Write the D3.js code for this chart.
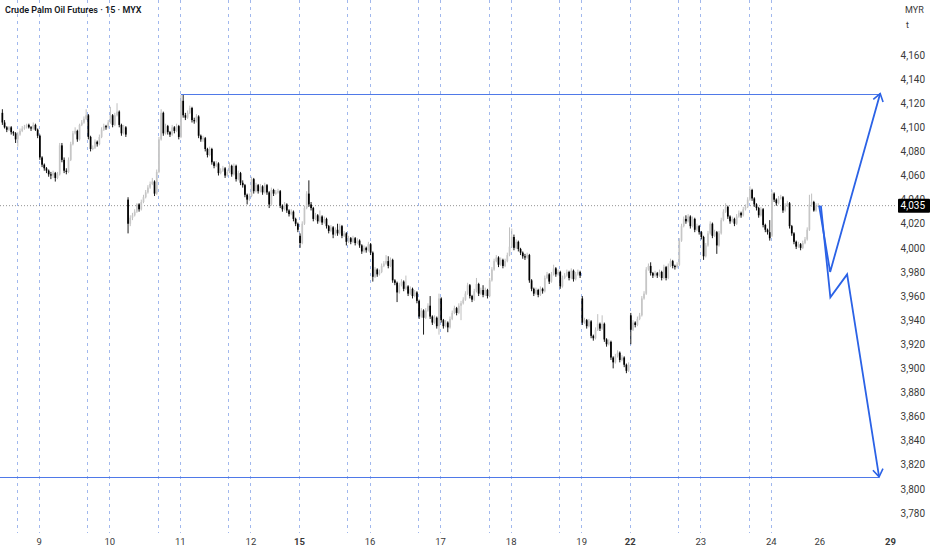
<!DOCTYPE html>
<html><head><meta charset="utf-8">
<script src="https://cdn.jsdelivr.net/npm/d3@7/dist/d3.min.js"></script>
<style>body{margin:0;background:#fff}svg{display:block}text{font-family:Roboto,"Liberation Sans",sans-serif}</style>
</head><body><svg id="c" width="932" height="550"></svg>
<script>
const title = "Crude Palm Oil Futures · 15 · MYX";
const opens = [4112,4104,4100,4098,4100,4096,4095,4090,4094,4097,4099,4100,4102,4100,4099,4102,4098,4093,4075,4069,
4066,4064,4061,4060,4062,4058,4061,4085,4073,4064,4063,4073,4086,4095,4097,4090,4102,4104,4107,4110,
4092,4082,4083,4088,4086,4092,4098,4101,4100,4104,4110,4102,4110,4113,4102,4095,4100,4040,4020,4025,
4027,4030,4036,4032,4038,4042,4046,4050,4053,4055,4045,4063,4090,4112,4095,4101,4096,4094,4100,4097,
4101,4092,4122,4110,4108,4112,4116,4106,4105,4109,4093,4090,4091,4082,4077,4082,4071,4068,4070,4062,
4064,4066,4060,4063,4068,4061,4068,4057,4062,4054,4052,4044,4040,4043,4057,4047,4052,4047,4051,4046,
4052,4046,4036,4048,4045,4046,4047,4035,4032,4036,4031,4028,4030,4024,4020,4010,4004,4020,4033,4045,
4036,4033,4024,4027,4022,4026,4021,4024,4018,4014,4017,4011,4015,4012,4018,4010,4012,4005,4008,4005,
4008,4004,4006,4002,3997,4000,3998,4003,3996,3976,3982,3978,3980,3985,3987,3989,3985,3990,3973,3971,
3963,3969,3972,3966,3968,3962,3966,3960,3963,3956,3943,3948,3942,3948,3952,3943,3938,3942,3935,3958,
3940,3935,3938,3934,3941,3946,3950,3946,3952,3954,3957,3962,3969,3960,3957,3964,3970,3962,3965,3961,
3965,3960,3973,3982,3989,3992,3986,3990,3985,3989,3994,4001,4009,4000,4005,3999,3996,3993,3992,3994,
3973,3966,3962,3965,3961,3966,3964,3975,3978,3972,3978,3983,3978,3980,3968,3975,3977,3980,3975,3981,
3974,3978,3980,3958,3938,3940,3935,3939,3927,3925,3932,3937,3933,3937,3924,3920,3922,3909,3905,3910,
3913,3907,3909,3903,3898,3944,3932,3938,3936,3941,3944,3958,3962,3982,3985,3979,3977,3979,3977,3980,
3975,3984,3975,3985,3989,3985,3984,3986,4006,4018,4024,4022,4026,4018,4024,4015,4018,4013,4009,3993,
4002,4012,4020,4010,4013,4002,4012,4023,4030,4034,4026,4022,4024,4020,4026,4029,4027,4032,4034,4040,
4048,4041,4036,4033,4027,4032,4019,4015,4013,4010,4045,4040,4037,4041,4042,4031,4035,4037,4018,4012,
4005,4001,4003,4000,4004,4007,4015,4036,4038,4031,4035];
const highs = [4115,4106,4101,4101,4101,4097,4096,4096,4099,4101,4102,4103,4103,4101,4104,4103,4099,4094,4076,4070,
4067,4065,4063,4064,4063,4063,4087,4087,4075,4066,4075,4088,4097,4100,4098,4103,4106,4109,4115,4111,
4093,4085,4090,4089,4094,4100,4103,4102,4106,4117,4111,4112,4120,4114,4103,4102,4101,4042,4027,4029,
4032,4037,4037,4040,4044,4048,4052,4055,4058,4056,4065,4092,4115,4113,4103,4102,4097,4102,4101,4103,
4102,4127,4127,4112,4114,4118,4117,4108,4111,4110,4094,4093,4092,4083,4084,4083,4072,4072,4071,4066,
4068,4067,4065,4071,4069,4070,4069,4064,4063,4056,4053,4045,4045,4059,4058,4054,4053,4053,4052,4054,
4053,4047,4050,4049,4048,4049,4048,4036,4038,4037,4032,4032,4031,4025,4021,4012,4022,4035,4047,4056,
4038,4034,4029,4028,4031,4027,4026,4025,4019,4019,4018,4017,4020,4020,4019,4014,4013,4010,4009,4010,
4009,4008,4007,4003,4002,4001,4005,4004,3997,3984,3983,3982,3987,3989,3994,3993,3992,3991,3974,3972,
3971,3974,3973,3977,3969,3968,3967,3965,3964,3957,3950,3949,3950,3954,3960,3944,3944,3943,3962,3959,
3941,3940,3939,3943,3948,3952,3951,3954,3956,3959,3964,3971,3970,3961,3966,3975,3971,3967,3969,3967,
3966,3975,3984,3991,3994,3993,3992,3991,3991,3996,4017,4016,4011,4007,4006,4000,3997,3995,3996,3995,
3974,3967,3967,3966,3968,3967,3977,3980,3979,3980,3986,3984,3982,3981,3977,3979,3982,3981,3983,3982,
3980,3982,3981,3960,3942,3941,3941,3940,3928,3934,3945,3938,3944,3938,3925,3924,3923,3910,3912,3915,
3914,3911,3910,3904,3905,3946,3940,3939,3943,3946,3960,3964,3984,3987,3988,3980,3981,3980,3982,3981,
3986,3985,3987,3991,3990,3986,3988,4008,4020,4026,4027,4028,4027,4026,4025,4020,4019,4014,4010,4004,
4014,4022,4021,4015,4014,4014,4025,4032,4037,4035,4027,4026,4025,4028,4031,4030,4034,4036,4042,4051,
4049,4042,4037,4034,4034,4033,4020,4016,4023,4048,4046,4041,4043,4044,4043,4037,4039,4038,4019,4013,
4006,4005,4004,4006,4009,4017,4044,4045,4039,4037,4037];
const lows = [4102,4099,4096,4097,4094,4093,4087,4084,4093,4096,4098,4099,4099,4097,4098,4097,4091,4073,4067,4064,
4062,4059,4057,4058,4055,4057,4060,4071,4062,4061,4062,4072,4085,4094,4088,4089,4101,4103,4106,4090,
4080,4081,4082,4084,4085,4091,4097,4098,4099,4103,4100,4101,4109,4100,4093,4094,4092,4012,4018,4023,
4026,4029,4030,4031,4037,4041,4045,4049,4052,4043,4044,4062,4089,4093,4094,4094,4092,4093,4095,4096,
4090,4091,4108,4106,4107,4111,4104,4103,4104,4091,4088,4088,4080,4075,4076,4069,4066,4067,4060,4061,
4063,4058,4059,4062,4059,4060,4055,4056,4052,4050,4042,4036,4039,4042,4045,4046,4045,4046,4044,4045,
4044,4033,4035,4043,4044,4045,4033,4030,4031,4029,4026,4027,4022,4018,4013,4000,4003,4019,4032,4034,
4031,4022,4023,4020,4021,4019,4020,4016,4012,4013,4008,4010,4010,4011,4008,4009,4002,4004,4003,4004,
4002,4003,4000,3995,3996,3996,3997,3994,3972,3975,3976,3977,3979,3984,3986,3983,3984,3971,3969,3955,
3962,3968,3964,3965,3960,3961,3958,3959,3954,3941,3942,3928,3941,3947,3941,3936,3937,3933,3928,3938,
3933,3934,3930,3933,3940,3945,3944,3945,3940,3953,3956,3961,3958,3955,3956,3963,3960,3961,3959,3960,
3958,3959,3972,3981,3988,3984,3985,3983,3984,3988,3993,4000,3998,3999,3997,3994,3991,3990,3991,3971,
3964,3960,3961,3959,3960,3962,3963,3974,3970,3971,3977,3976,3977,3966,3967,3974,3976,3973,3974,3972,
3973,3977,3975,3936,3937,3933,3934,3925,3923,3924,3931,3931,3932,3922,3918,3919,3907,3900,3904,3909,
3905,3906,3901,3896,3897,3920,3931,3934,3935,3940,3943,3957,3961,3981,3977,3975,3976,3975,3976,3973,
3974,3973,3974,3984,3983,3982,3983,3985,4005,4017,4020,4021,4016,4017,4013,4014,4011,4007,3990,3992,
4001,4011,4008,4009,3995,4001,4011,4022,4029,4024,4020,4021,4018,4019,4025,4025,4026,4031,4033,4039,
4039,4034,4031,4025,4026,4017,4013,4011,4006,4009,4038,4035,4036,4040,4029,4030,4034,4016,4010,4003,
3999,4000,3998,3999,4003,4006,4014,4034,4030,4030,4034];
const closes = [4104,4100,4098,4100,4096,4095,4090,4094,4097,4099,4100,4102,4100,4099,4102,4098,4093,4075,4069,4066,
4064,4061,4060,4062,4058,4061,4085,4073,4064,4063,4073,4086,4095,4097,4090,4102,4104,4107,4110,4092,
4082,4083,4088,4086,4092,4098,4101,4100,4104,4110,4102,4110,4113,4102,4095,4100,4094,4020,4025,4027,
4030,4036,4032,4038,4042,4046,4050,4053,4055,4045,4063,4090,4112,4095,4101,4096,4094,4100,4097,4101,
4092,4122,4110,4108,4112,4116,4106,4105,4109,4093,4090,4091,4082,4077,4082,4071,4068,4070,4062,4064,
4066,4060,4063,4068,4061,4068,4057,4062,4054,4052,4044,4040,4043,4057,4047,4052,4047,4051,4046,4052,
4046,4036,4048,4045,4046,4047,4035,4032,4036,4031,4028,4030,4024,4020,4015,4004,4020,4033,4045,4036,
4033,4024,4027,4022,4026,4021,4024,4018,4014,4017,4011,4015,4012,4018,4010,4012,4005,4008,4005,4008,
4004,4006,4002,3997,4000,3998,4003,3996,3976,3982,3978,3980,3985,3987,3989,3985,3990,3973,3971,3963,
3969,3972,3966,3968,3962,3966,3960,3963,3956,3943,3948,3942,3948,3952,3943,3938,3942,3935,3958,3940,
3935,3938,3934,3941,3946,3950,3946,3952,3954,3957,3962,3969,3960,3957,3964,3970,3962,3965,3961,3965,
3960,3973,3982,3989,3992,3986,3990,3985,3989,3994,4001,4009,4000,4005,3999,3996,3993,3992,3994,3973,
3966,3962,3965,3961,3966,3964,3975,3978,3972,3978,3983,3978,3980,3968,3975,3977,3980,3975,3981,3974,
3978,3980,3977,3938,3940,3935,3939,3927,3925,3932,3937,3933,3937,3924,3920,3922,3909,3905,3910,3913,
3907,3909,3903,3898,3903,3932,3938,3936,3941,3944,3958,3962,3982,3985,3979,3977,3979,3977,3980,3975,
3984,3975,3985,3989,3985,3984,3986,4006,4018,4024,4022,4026,4018,4024,4015,4018,4013,4009,3993,4002,
4012,4020,4010,4013,4002,4012,4023,4030,4034,4026,4022,4024,4020,4026,4029,4027,4032,4034,4040,4048,
4041,4036,4033,4027,4032,4019,4015,4013,4008,4045,4040,4037,4041,4042,4031,4035,4037,4018,4012,4005,
4001,4003,4000,4004,4007,4015,4036,4038,4031,4035,4035];
const sessionStarts = [7,17,39,49,71,81,103,113,135,157,167,189,199,221,231,253,263,285,307,317,339,349];
const dayLabels = ["9","10","11","12","15","16","17","18","19","22","23","24","26","29"];
const dayIndex = [17,49,81,113,135,167,199,231,263,285,317,349,371,403];
const boldDays = ["15","22","29"];
const priceTicks = [3780,3800,3820,3840,3860,3880,3900,3920,3940,3960,3980,4000,4020,4040,4060,4080,4100,4120,4140,4160];
const lastPrice = 4035;
const levelTop = {from:81, to:398, price:4128};
const levelBottom = {from:0, to:397.6, price:3810};
const pathUp = [[370.4,4035],[375.4,3980],[398.1,4128]];
const pathDown = [[371.2,4035],[375.5,3959],[383.1,3978],[397.6,3810]];

const svg = d3.select("#c");
const x = d3.scaleLinear().domain([0,403]).range([1.27,889.9]);
const y = d3.scaleLinear().domain([3780,4160]).range([513,55]);
const bw = x(1)-x(0);
const cx = i => x(i)+bw/2;

// session break lines
svg.append("g").selectAll("line").data(sessionStarts).join("line")
  .attr("x1",d=>Math.round(x(d))+0.5).attr("x2",d=>Math.round(x(d))+0.5)
  .attr("y1",0).attr("y2",533)
  .attr("stroke","#6f92e4").attr("stroke-opacity",0.65).attr("stroke-width",1).attr("stroke-dasharray","3,4");

// last price dotted line
svg.append("line").attr("x1",0).attr("x2",897).attr("y1",y(lastPrice)).attr("y2",y(lastPrice))
  .attr("stroke","#777").attr("stroke-width",0.8).attr("stroke-dasharray","1,2");

// candles
const idx = d3.range(closes.length);
const cg = svg.append("g");
cg.selectAll("line").data(idx).join("line")
  .attr("x1",cx).attr("x2",cx)
  .attr("y1",i=>y(highs[i])).attr("y2",i=>y(lows[i]))
  .attr("stroke",i=>closes[i]>=opens[i]?"#b8b8b8":"#000").attr("stroke-width",0.9);
cg.selectAll("rect").data(idx).join("rect")
  .attr("x",i=>cx(i)-0.85).attr("width",1.7)
  .attr("y",i=>y(Math.max(opens[i],closes[i])))
  .attr("height",i=>Math.max(1,Math.abs(y(opens[i])-y(closes[i]))))
  .attr("fill",i=>closes[i]>=opens[i]?"#c6c6c6":"#000");

// levels
const blue = "#2b62e6";
[levelTop,levelBottom].forEach(l=>{
  svg.append("line").attr("x1",l.from===0?0:cx(l.from)).attr("x2",x(l.to)+bw/2)
    .attr("y1",Math.round(y(l.price))+0.5).attr("y2",Math.round(y(l.price))+0.5)
    .attr("stroke","#4f79e8").attr("stroke-width",1);
});
const line = d3.line().x(d=>x(d[0])+bw/2).y(d=>y(d[1]));
function arrow(pts){
  svg.append("path").attr("d",line(pts)).attr("fill","none").attr("stroke",blue).attr("stroke-width",1.8).attr("stroke-linejoin","miter");
  const a = pts[pts.length-2], b = pts[pts.length-1];
  const ax = x(a[0])+bw/2, ay=y(a[1]), bx=x(b[0])+bw/2, by=y(b[1]);
  const ang = Math.atan2(by-ay,bx-ax), L=9, sp=0.6;
  const p1=[bx-L*Math.cos(ang-sp), by-L*Math.sin(ang-sp)], p2=[bx-L*Math.cos(ang+sp), by-L*Math.sin(ang+sp)];
  svg.append("path").attr("d",`M${p1[0]},${p1[1]}L${bx},${by}L${p2[0]},${p2[1]}`)
    .attr("fill","none").attr("stroke",blue).attr("stroke-width",1.6);
}
arrow(pathUp); arrow(pathDown);

// y axis
const ya = svg.append("g").attr("transform","translate(925,0)")
  .call(d3.axisRight(y).tickValues(priceTicks).tickSize(0).tickPadding(0).tickFormat(d3.format(",")));
ya.select(".domain").remove();
ya.selectAll("text").attr("text-anchor","end").attr("fill","#3a3a3a").style("font-size","10px").style("font-family","Roboto,'Liberation Sans',sans-serif");

// x axis
const xa = svg.append("g").attr("transform","translate(0,538)")
  .call(d3.axisBottom(x).tickValues(dayIndex).tickSize(0).tickPadding(0).tickFormat((d,i)=>dayLabels[i]));
xa.select(".domain").remove();
xa.selectAll("text").attr("fill","#3a3a3a").style("font-size","9.5px")
  .style("font-weight",(d,i)=>boldDays.includes(dayLabels[i])?"700":"400")
  .style("font-family","Roboto,'Liberation Sans',sans-serif");

// last price label
svg.append("rect").attr("x",898).attr("y",y(lastPrice)-7).attr("width",32).attr("height",14).attr("fill","#000").attr("rx",1);
svg.append("text").attr("x",925).attr("y",y(lastPrice)+3.5).attr("text-anchor","end")
  .attr("fill","#fff").style("font-size","10px").text(d3.format(",")(lastPrice));

// header texts
svg.append("text").attr("x",5).attr("y",13).attr("fill","#131722").style("font-size","9px").style("font-weight","600").text(title);
svg.append("text").attr("x",905).attr("y",13).attr("fill","#3a3a3a").style("font-size","9px").text("MYR");
svg.append("text").attr("x",906).attr("y",28).attr("fill","#3a3a3a").style("font-size","9px").text("t");
</script></body></html>
